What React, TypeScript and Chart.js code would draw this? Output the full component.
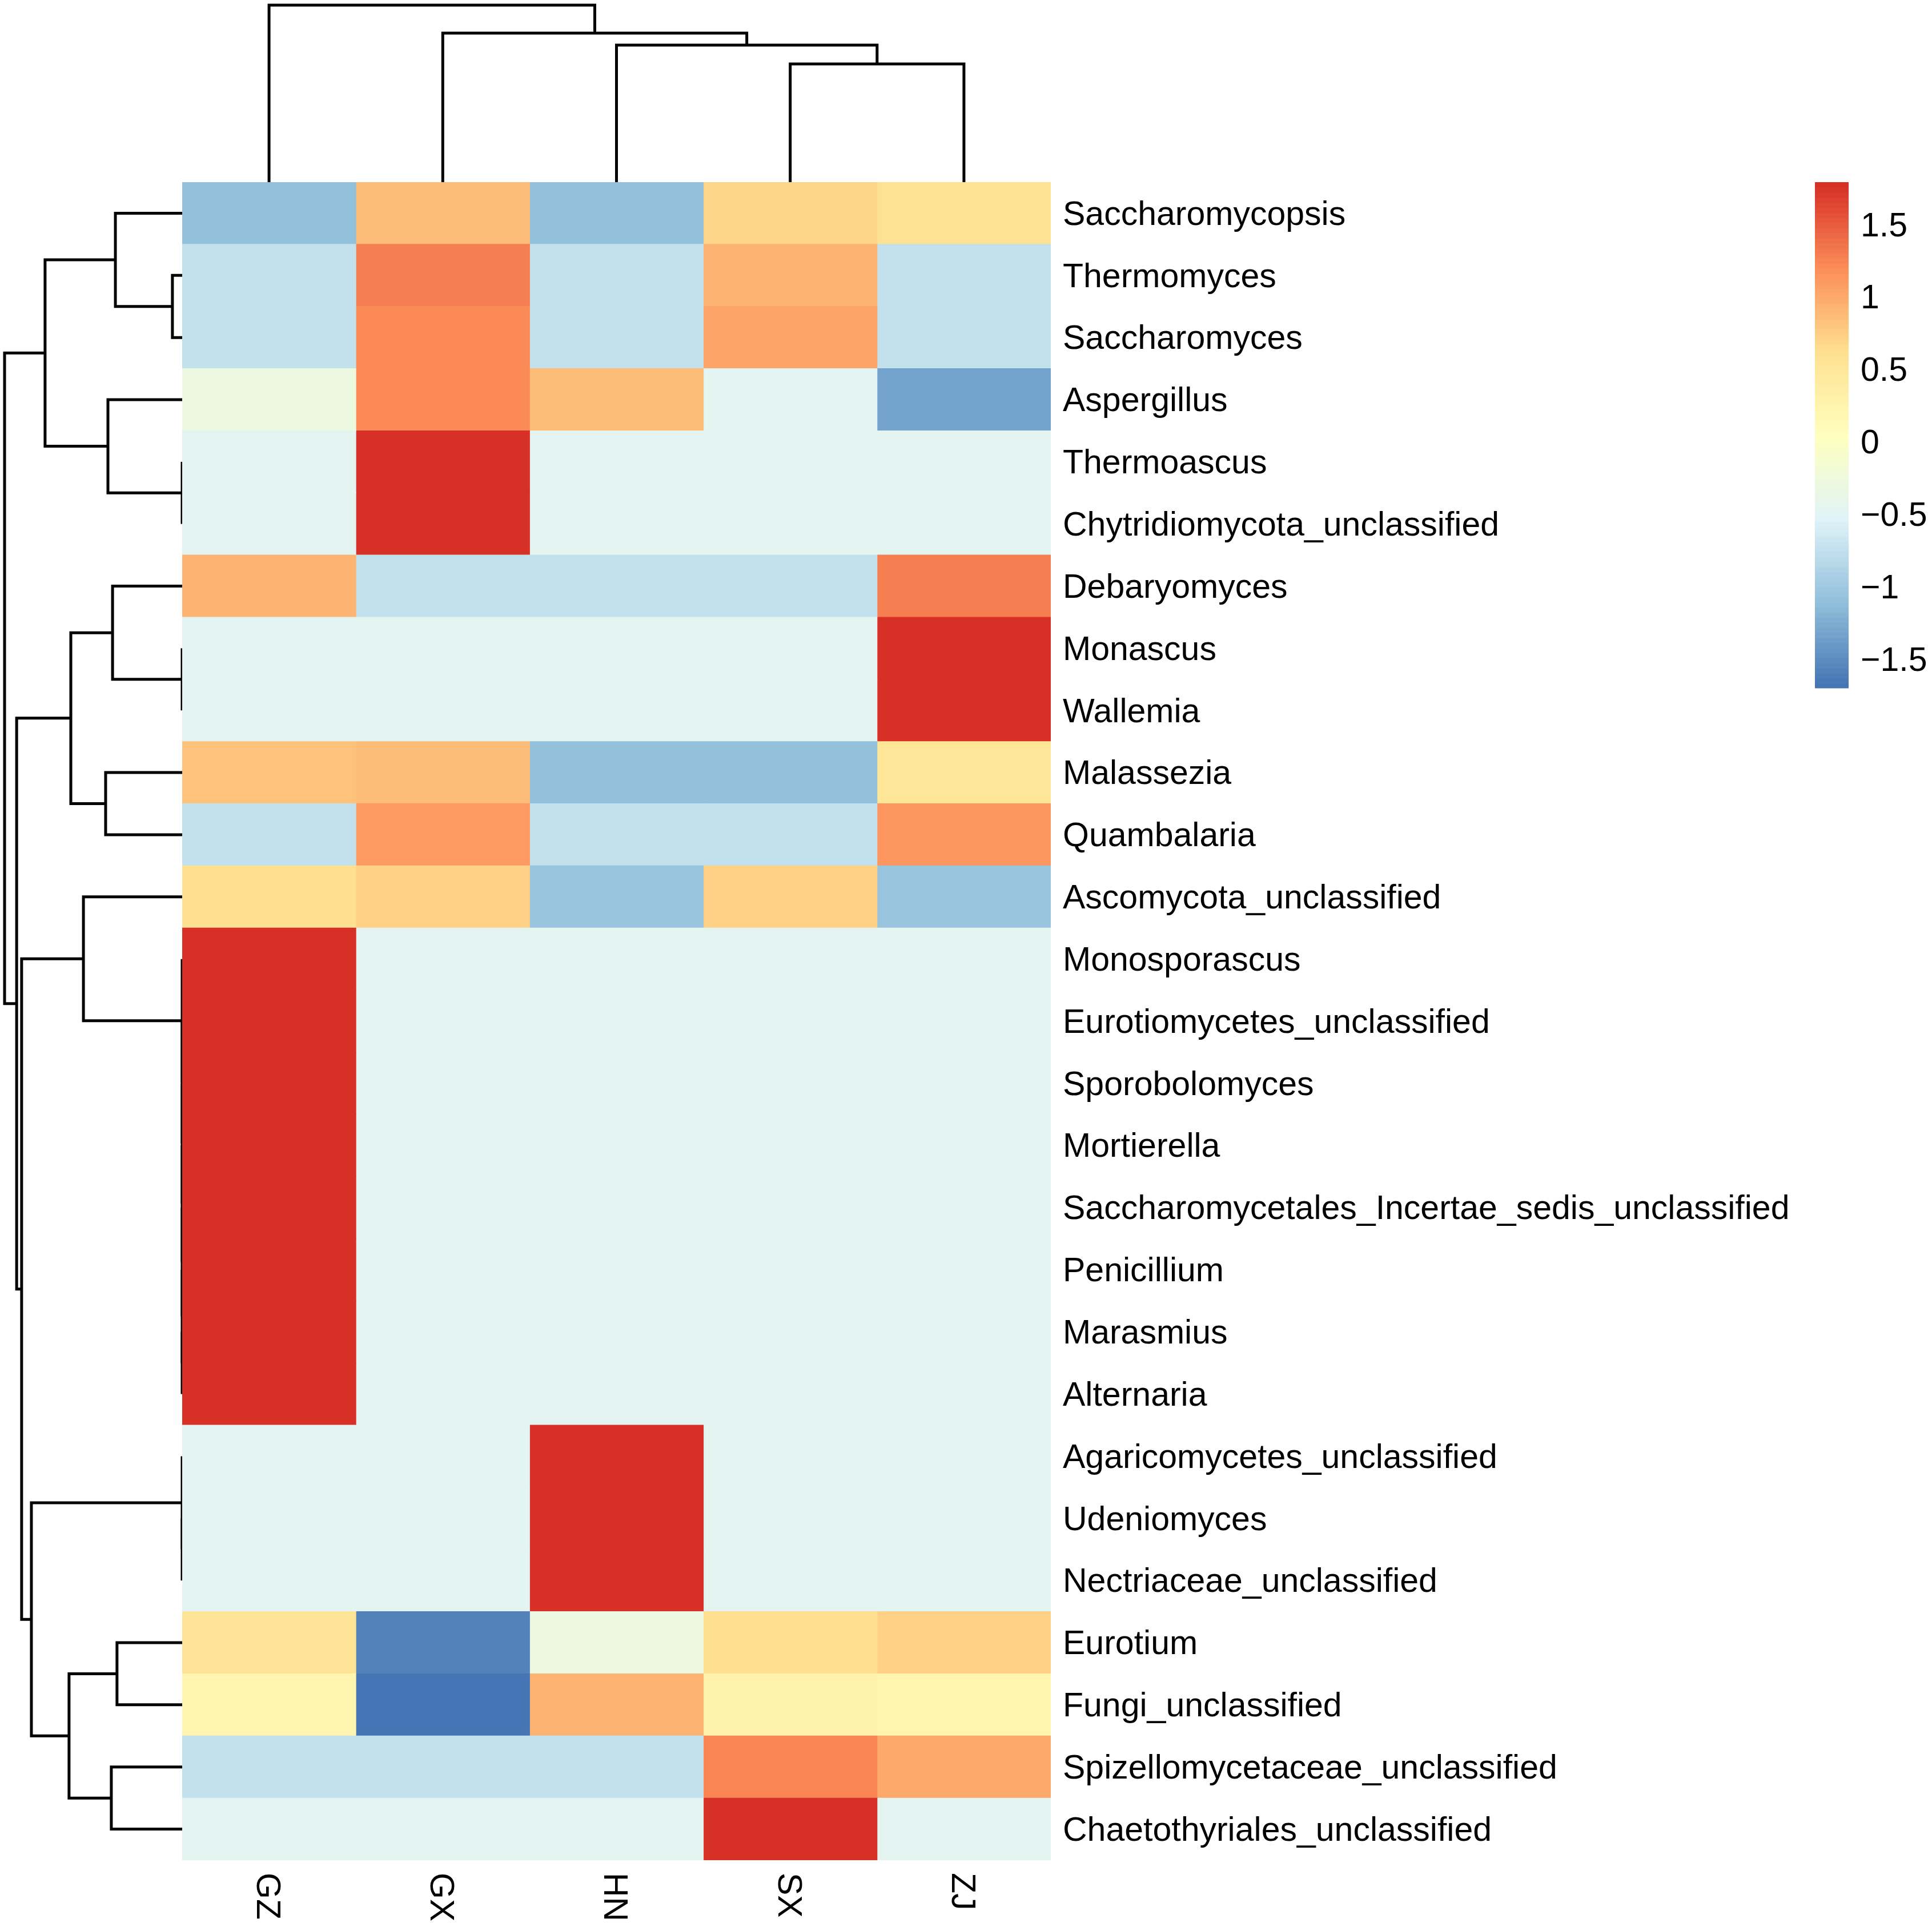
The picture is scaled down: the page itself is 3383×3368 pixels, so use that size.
import React, { useEffect, useRef } from "react";
import { Chart, registerables } from "chart.js";

Chart.register(...registerables);

// ---------------- data ----------------
const rowLabels = [
  "Saccharomycopsis",
  "Thermomyces",
  "Saccharomyces",
  "Aspergillus",
  "Thermoascus",
  "Chytridiomycota_unclassified",
  "Debaryomyces",
  "Monascus",
  "Wallemia",
  "Malassezia",
  "Quambalaria",
  "Ascomycota_unclassified",
  "Monosporascus",
  "Eurotiomycetes_unclassified",
  "Sporobolomyces",
  "Mortierella",
  "Saccharomycetales_Incertae_sedis_unclassified",
  "Penicillium",
  "Marasmius",
  "Alternaria",
  "Agaricomycetes_unclassified",
  "Udeniomyces",
  "Nectriaceae_unclassified",
  "Eurotium",
  "Fungi_unclassified",
  "Spizellomycetaceae_unclassified",
  "Chaetothyriales_unclassified",
];

const colLabels = ["GZ", "GX", "HN", "SX", "ZJ"];

// row-scaled (z-score) values per sample column, in row order above
const GZ = [-1.08, -0.75, -0.75, -0.30, -0.447, -0.447, 0.95, -0.447, -0.447, 0.82, -0.75, 0.62,
  1.789, 1.789, 1.789, 1.789, 1.789, 1.789, 1.789, 1.789, -0.447, -0.447, -0.447, 0.55, 0.25, -0.75, -0.447];
const GX = [0.88, 1.30, 1.20, 1.20, 1.789, 1.789, -0.75, -0.447, -0.447, 0.85, 1.12, 0.74,
  -0.447, -0.447, -0.447, -0.447, -0.447, -0.447, -0.447, -0.447, -0.447, -0.447, -0.447, -1.58, -1.70, -0.75, -0.447];
const HN = [-1.08, -0.75, -0.75, 0.88, -0.447, -0.447, -0.75, -0.447, -0.447, -1.10, -0.75, -1.05,
  -0.447, -0.447, -0.447, -0.447, -0.447, -0.447, -0.447, -0.447, 1.789, 1.789, 1.789, -0.30, 0.95, -0.75, -0.447];
const SX = [0.70, 0.95, 1.05, -0.45, -0.447, -0.447, -0.75, -0.447, -0.447, -1.10, -0.75, 0.74,
  -0.447, -0.447, -0.447, -0.447, -0.447, -0.447, -0.447, -0.447, -0.447, -0.447, -0.447, 0.62, 0.28, 1.25, 1.789];
const ZJ = [0.58, -0.75, -0.75, -1.33, -0.447, -0.447, 1.30, 1.789, 1.789, 0.53, 1.13, -1.05,
  -0.447, -0.447, -0.447, -0.447, -0.447, -0.447, -0.447, -0.447, -0.447, -0.447, -0.447, 0.71, 0.22, 1.00, -0.447];

const columnSeries = [GZ, GX, HN, SX, ZJ];

// colour scale (reversed RdYlBu, 7 anchors -> 100 colours)
const paletteAnchors = ["#4575B4", "#91BFDB", "#E0F3F8", "#FFFFBF", "#FEE090", "#FC8D59", "#D73027"];
const nColors = 100;
const legendTicks = [-1.5, -1, -0.5, 0, 0.5, 1, 1.5];

// hclust-style merges: negative = leaf -(index+1), positive = earlier merge (1-based); third = height
const rowMerges: [number, number, number][] = [
  [-2, -3, 0.055],
  [-1, 1, 0.376],
  [-5, -6, 0.0],
  [-4, 3, 0.418],
  [2, 4, 0.772],
  [-8, -9, 0.0],
  [-7, 6, 0.392],
  [-10, -11, 0.431],
  [7, 8, 0.627],
  [-19, -20, 0.0],
  [-18, 10, 0.0],
  [-17, 11, 0.0],
  [-16, 12, 0.0],
  [-15, 13, 0.0],
  [-14, 14, 0.0],
  [-13, 15, 0.0],
  [-12, 16, 0.556],
  [-22, -23, 0.0],
  [-21, 18, 0.0],
  [-24, -25, 0.367],
  [-26, -27, 0.399],
  [20, 21, 0.637],
  [19, 22, 0.849],
  [17, 23, 0.904],
  [9, 24, 0.932],
  [5, 25, 1.0],
];

const colMerges: [number, number, number][] = [
  [-4, -5, 0.668],
  [-3, 1, 0.774],
  [-2, 2, 0.842],
  [-1, 3, 1.0],
];

// ---------------- helpers ----------------
const W = 3383;
const H = 3368;
const FONT = "'Liberation Sans', Arial, Helvetica, sans-serif";
const FONT_SIZE = 59;
const CAP = 0.716 * FONT_SIZE;

function hexToRgb(h: string) {
  const n = parseInt(h.slice(1), 16);
  return [(n >> 16) & 255, (n >> 8) & 255, n & 255];
}

const palette: string[] = (() => {
  const anchors = paletteAnchors.map(hexToRgb);
  const out: string[] = [];
  for (let k = 0; k < nColors; k++) {
    const t = (k / (nColors - 1)) * (anchors.length - 1);
    const i = Math.min(Math.floor(t), anchors.length - 2);
    const f = t - i;
    const c = anchors[i].map((v, m) => Math.round(v + (anchors[i + 1][m] - v) * f));
    out.push(`rgb(${c[0]},${c[1]},${c[2]})`);
  }
  return out;
})();

const allValues = columnSeries.flat();
const vMin = Math.min(...allValues);
const vMax = Math.max(...allValues);

function colorFor(v: number) {
  let idx = Math.floor(((v - vMin) / (vMax - vMin)) * nColors);
  idx = Math.max(0, Math.min(nColors - 1, idx));
  return palette[idx];
}

function layoutTree(merges: [number, number, number][], leafPos: (i: number) => number) {
  const nodes: { pos: number; h: number }[] = [];
  const segs: { a: { pos: number; h: number }; b: { pos: number; h: number }; h: number }[] = [];
  const get = (ref: number) => (ref < 0 ? { pos: leafPos(-ref - 1), h: 0 } : nodes[ref - 1]);
  for (const [ra, rb, h] of merges) {
    const a = get(ra);
    const b = get(rb);
    segs.push({ a, b, h });
    nodes.push({ pos: (a.pos + b.pos) / 2, h });
  }
  return segs;
}

const ROW_DENDRO_LEFT = 8;
const COL_DENDRO_TOP = 9;
const LEGEND_X = 3178;
const LEGEND_W = 59;
const LEGEND_BOTTOM = 1205;

const heatmapExtras = {
  id: "heatmapExtras",
  beforeDatasetsDraw(chart: any) {
    const { ctx, chartArea, scales } = chart;
    ctx.save();
    ctx.strokeStyle = "#000";
    ctx.lineWidth = 5;
    ctx.lineJoin = "miter";
    ctx.lineCap = "butt";

    // row dendrogram
    const rowSegs = layoutTree(rowMerges, (i) => scales.y.getPixelForValue(i));
    const rMax = Math.max(...rowMerges.map((m) => m[2]));
    const rw = chartArea.left - ROW_DENDRO_LEFT;
    const rx = (h: number) => chartArea.left - (h / rMax) * rw;
    for (const s of rowSegs) {
      ctx.beginPath();
      ctx.moveTo(rx(s.a.h), s.a.pos);
      ctx.lineTo(rx(s.h), s.a.pos);
      ctx.lineTo(rx(s.h), s.b.pos);
      ctx.lineTo(rx(s.b.h), s.b.pos);
      ctx.stroke();
    }

    // column dendrogram
    const colSegs = layoutTree(colMerges, (j) => scales.x.getPixelForValue(j + 0.5));
    const cMax = Math.max(...colMerges.map((m) => m[2]));
    const ch = chartArea.top - COL_DENDRO_TOP;
    const cy = (h: number) => chartArea.top - (h / cMax) * ch;
    for (const s of colSegs) {
      ctx.beginPath();
      ctx.moveTo(s.a.pos, cy(s.a.h));
      ctx.lineTo(s.a.pos, cy(s.h));
      ctx.lineTo(s.b.pos, cy(s.h));
      ctx.lineTo(s.b.pos, cy(s.b.h));
      ctx.stroke();
    }
    ctx.restore();
  },
  afterDraw(chart: any) {
    const { ctx, chartArea, scales } = chart;
    ctx.save();
    ctx.fillStyle = "#000";
    ctx.font = `${FONT_SIZE}px ${FONT}`;
    ctx.textAlign = "left";
    ctx.textBaseline = "alphabetic";

    // column labels, rotated 90deg clockwise
    colLabels.forEach((lab, j) => {
      const x = scales.x.getPixelForValue(j + 0.5);
      ctx.save();
      ctx.translate(x - CAP / 2, chartArea.bottom + 22);
      ctx.rotate(Math.PI / 2);
      ctx.fillText(lab, 0, 0);
      ctx.restore();
    });

    // colour legend
    const top = chartArea.top;
    const bottom = LEGEND_BOTTOM;
    const vy = (v: number) => bottom - ((v - vMin) / (vMax - vMin)) * (bottom - top);
    for (let k = 0; k < nColors; k++) {
      const v0 = vMin + ((vMax - vMin) * k) / nColors;
      const v1 = vMin + ((vMax - vMin) * (k + 1)) / nColors;
      const y0 = vy(v1);
      const y1 = vy(v0);
      ctx.fillStyle = palette[k];
      ctx.fillRect(LEGEND_X, Math.floor(y0), LEGEND_W, Math.ceil(y1) - Math.floor(y0) + 0.5);
    }
    ctx.fillStyle = "#000";
    legendTicks.forEach((t) => {
      const label = t < 0 ? "\u2212" + String(Math.abs(t)) : String(t);
      ctx.fillText(label, LEGEND_X + LEGEND_W + 21, vy(t) + CAP / 2);
    });
    ctx.restore();
  },
};

export default function App() {
  const ref = useRef<HTMLCanvasElement | null>(null);

  useEffect(() => {
    document.body.style.margin = "0";
    const canvas = ref.current;
    if (!canvas) return;
    const datasets = columnSeries.map((series, j) => ({
      label: colLabels[j],
      data: series.map(() => [j, j + 1]),
      backgroundColor: series.map((v) => colorFor(v)),
      borderWidth: 0,
      barPercentage: 1,
      categoryPercentage: 1,
      inflateAmount: 0.5,
    }));
    const chart = new Chart(canvas, {
      type: "bar",
      data: { labels: rowLabels, datasets: datasets as any },
      options: {
        indexAxis: "y",
        responsive: false,
        animation: false,
        devicePixelRatio: 1,
        layout: { padding: { left: 319, top: 319, right: 0, bottom: 110 } },
        plugins: { legend: { display: false }, tooltip: { enabled: false } },
        events: [],
        scales: {
          x: { type: "linear", min: 0, max: colLabels.length, display: false, stacked: false },
          y: {
            type: "category",
            position: "right",
            stacked: true,
            offset: true,
            grid: { display: false },
            border: { display: false },
            ticks: {
              color: "#000",
              autoSkip: false,
              padding: 13,
              labelOffset: 4,
              font: { family: FONT, size: FONT_SIZE },
            },
            afterFit: (scale: any) => {
              scale.width = W - 1840;
            },
          },
        },
      },
      plugins: [heatmapExtras],
    });
    return () => chart.destroy();
  }, []);

  return (
    <div style={{ position: "absolute", left: 0, top: 0, width: W, height: H, background: "#fff" }}>
      <canvas ref={ref} width={W} height={H} style={{ width: W, height: H, display: "block" }} />
    </div>
  );
}
